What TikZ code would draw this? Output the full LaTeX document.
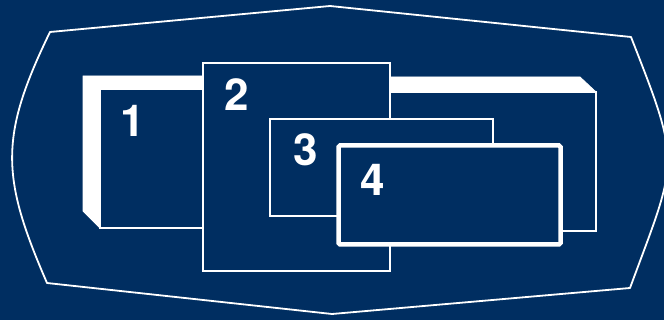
\documentclass[tikz,border=0pt]{standalone}
\usepackage{fontspec}
\setmainfont{TeX Gyre Heros}
\definecolor{navy}{RGB}{0,46,97}
\begin{document}
\begin{tikzpicture}[x=1pt,y=-1pt,
  thinbox/.style={draw=white,line width=1.8pt,fill=navy,inner sep=0pt,outer sep=0pt,anchor=north west},
  band/.style={fill=white,draw=white,line width=0.8pt},
  label/.style={text=white,font=\fontsize{44}{44}\selectfont\bfseries,inner sep=0pt,anchor=center}]
\useasboundingbox (0,0) rectangle (664,320);
\fill[navy] (0,0) rectangle (664,320);
\begin{scope}
\clip (0,0) rectangle (664,320);
% outer screen outline
\draw[white,line width=1.8pt,line join=round]
  (50,32) -- (330,6) -- (631,37)
  .. controls (682,167) and (678,158) .. (630,288)
  -- (332,314) -- (47,283)
  .. controls (1,177) and (-1,137) .. cycle;
\end{scope}
% right extruded box
\fill[band] (350,77) -- (580,77) -- (596,92) -- (350,92) -- cycle;
\node[thinbox,minimum width=246pt,minimum height=139pt] (rb) at (350,92) {};
% box 1 extruded
\fill[band] (83,76) -- (220,76) -- (220,89) -- (100,89) -- (100,228) -- (83,211) -- cycle;
\node[thinbox,minimum width=120pt,minimum height=139pt] (b1) at (100,89) {};
% box 2
\node[thinbox,minimum width=187pt,minimum height=208pt] (b2) at (203,63) {};
% box 3
\node[thinbox,minimum width=223pt,minimum height=97pt] (b3) at (270,119) {};
% box 4
\node[thinbox,line width=4.5pt,rounded corners=1.5pt,minimum width=222pt,minimum height=99pt] (b4) at (338.5,145.5) {};
% labels
\node[label] (l1) at (133,121) {1};
\node[label] (l2) at (237,95) {2};
\node[label] (l3) at (306,150) {3};
\node[label] (l4) at (373,180) {4};
\end{tikzpicture}
\end{document}
